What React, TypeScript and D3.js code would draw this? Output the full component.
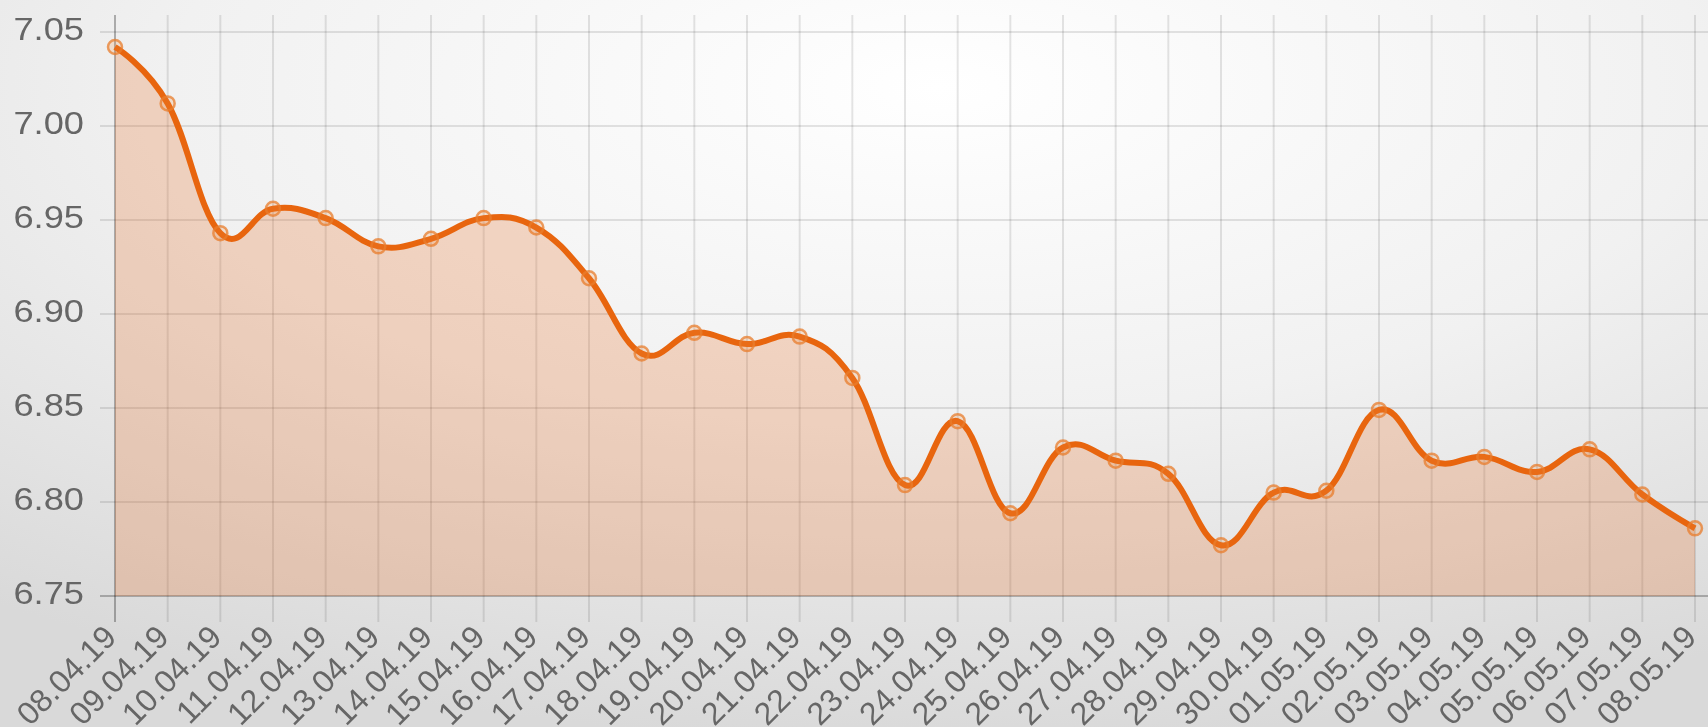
import React from "react";
import * as d3 from "d3";

// daily rate, 08.04.19 - 08.05.19
const dates = [
  "08.04.19", "09.04.19", "10.04.19", "11.04.19", "12.04.19", "13.04.19",
  "14.04.19", "15.04.19", "16.04.19", "17.04.19", "18.04.19", "19.04.19",
  "20.04.19", "21.04.19", "22.04.19", "23.04.19", "24.04.19", "25.04.19",
  "26.04.19", "27.04.19", "28.04.19", "29.04.19", "30.04.19", "01.05.19",
  "02.05.19", "03.05.19", "04.05.19", "05.05.19", "06.05.19", "07.05.19",
  "08.05.19",
];
const rates = [
  7.042, 7.012, 6.943, 6.956, 6.951, 6.936,
  6.940, 6.951, 6.946, 6.919, 6.879, 6.890,
  6.884, 6.888, 6.866, 6.809, 6.843, 6.794,
  6.829, 6.822, 6.815, 6.777, 6.805, 6.806,
  6.849, 6.822, 6.824, 6.816, 6.828, 6.804,
  6.786,
];
const yTicks = [6.75, 6.8, 6.85, 6.9, 6.95, 7.0, 7.05];

const W = 1708;
const H = 727;

export default function App() {
  const left = 115;
  const right = 1695;
  const top = 15;
  const bottom = 596;

  const x = d3.scalePoint<string>().domain(dates).range([left, right]);
  const y = d3.scaleLinear().domain([6.75, 7.05]).range([bottom, 32]);

  // roughly the chart.js bezier (tension 0.4)
  const curve = d3.curveCardinal.tension(-0.2);
  const line = d3.line<number>()
    .x((d, i) => x(dates[i])!)
    .y((d) => y(d))
    .curve(curve);
  const area = d3.area<number>()
    .x((d, i) => x(dates[i])!)
    .y0(bottom)
    .y1((d) => y(d))
    .curve(curve);

  const font = "'Liberation Sans', Arial, sans-serif";

  return (
    <div style={{ position: "fixed", left: 0, top: 0 }}>
      <svg width={W} height={H} style={{ display: "block" }}>
        <defs>
          <radialGradient id="bg" cx="0.55" cy="0.12" r="0.9">
            <stop offset="0" stopColor="#ffffff" />
            <stop offset="0.5" stopColor="#f1f1f1" />
            <stop offset="1" stopColor="#d9d9d9" />
          </radialGradient>
        </defs>
        <rect width={W} height={H} fill="url(#bg)" />

        {/* grid */}
        <g stroke="rgba(0,0,0,0.1)" strokeWidth={2}>
          {yTicks.map((t) => (
            <line key={t} x1={100} x2={W} y1={y(t)} y2={y(t)} />
          ))}
          {dates.map((d) => (
            <line key={d} x1={x(d)} x2={x(d)} y1={top} y2={622} />
          ))}
        </g>
        <line x1={left} x2={left} y1={top} y2={622} stroke="rgba(0,0,0,0.2)" strokeWidth={2} />
        <line x1={100} x2={W} y1={bottom} y2={bottom} stroke="rgba(0,0,0,0.16)" strokeWidth={2} />

        <path d={area(rates)!} fill="rgba(232,110,40,0.25)" />
        <path d={line(rates)!} fill="none" stroke="#e8650e" strokeWidth={6} strokeLinejoin="round" />
        {rates.map((v, i) => (
          <circle key={i} cx={x(dates[i])} cy={y(v)} r={7}
            fill="rgba(240,140,60,0.2)" stroke="rgba(232,125,45,0.75)" strokeWidth={2.5} />
        ))}

        {/* y labels */}
        <g fontFamily={font} fontSize={31} fill="#666" textAnchor="end">
          {yTicks.map((t) => (
            <text key={t} transform={`translate(84,${y(t) - 3}) scale(1.17,1)`} dy="0.36em">{t.toFixed(2)}</text>
          ))}
        </g>

        {/* x labels */}
        <g fontFamily={font} fontSize={32} fill="#666" textAnchor="end">
          {dates.map((d) => (
            <text key={d} transform={`translate(${x(d)! + 3},${639}) rotate(-45)`}>{d}</text>
          ))}
        </g>
      </svg>
    </div>
  );
}
